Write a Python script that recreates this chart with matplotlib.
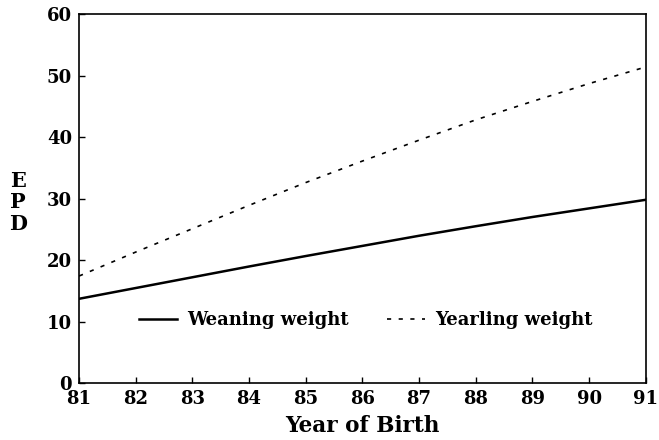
import matplotlib
matplotlib.use("Agg")
import matplotlib.pyplot as plt

# EPD trends by birth year
years = [81, 82, 83, 84, 85, 86, 87, 88, 89, 90, 91]
weaning = [13.7, 15.45, 17.2, 18.95, 20.65, 22.3, 23.95, 25.5, 27.0, 28.4, 29.8]
yearling = [17.4, 21.3, 25.1, 28.9, 32.6, 36.1, 39.5, 42.8, 45.8, 48.7, 51.4]
y_ticks = [0, 10, 20, 30, 40, 50, 60]

plt.rcParams['font.family'] = ['DejaVu Serif']
plt.rcParams['font.weight'] = 'bold'

fig = plt.figure(figsize=(6.59, 4.40), dpi=100)
ax = fig.add_axes([0.12, 0.1295, 0.86, 0.8385])

ax.plot(years, weaning, color='black', lw=1.8, label='Weaning weight')
ax.plot(years, yearling, color='black', lw=1.2, dashes=(2.5, 4.5),
        label='Yearling weight')

ax.set_xlim(81, 91)
ax.set_ylim(0, 60)
ax.set_xticks(years)
ax.set_yticks(y_ticks)
ax.tick_params(direction='in', length=4, width=1, labelsize=13, pad=5)
for lab in ax.get_xticklabels() + ax.get_yticklabels():
    lab.set_fontweight('bold')
for s in ax.spines.values():
    s.set_linewidth(1.2)

ax.set_xlabel('Year of Birth', fontsize=15.5, fontweight='bold', labelpad=5)
ax.set_ylabel('E\nP\nD', fontsize=15, fontweight='bold', rotation=0,
              linespacing=1.1, va='center', ha='center')
ax.yaxis.set_label_coords(-0.108, 0.49)

leg = ax.legend(loc='center', bbox_to_anchor=(0.506, 0.17), ncol=2,
                frameon=False, handlelength=2.1, handletextpad=0.55,
                columnspacing=2.1, prop={'size': 13, 'weight': 'bold'})

fig.savefig('out.png', dpi=100)
